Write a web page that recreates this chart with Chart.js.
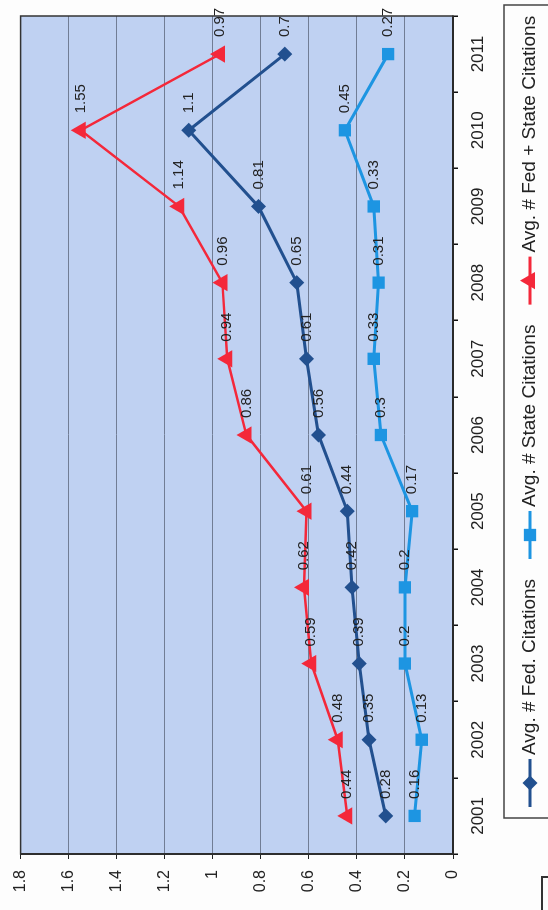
<!DOCTYPE html>
<html>
<head>
<meta charset="utf-8">
<title>Average citations per year</title>
<script src="https://cdn.jsdelivr.net/npm/chart.js"></script>
<style>
  html, body { margin: 0; padding: 0; }
  body { width: 548px; height: 910px; overflow: hidden; background: #fdfdfd; position: relative; }
  /* the scanned chart is turned a quarter turn counter-clockwise */
  #rotated { position: absolute; left: 0; top: 0; width: 910px; height: 548px; transform-origin: 0 0; transform: translateY(910px) rotate(-90deg); }
  #corner { position: absolute; left: 541px; top: 876px; width: 40px; height: 60px; border: 2px solid #333; }
</style>
</head>
<body>
<div id="rotated"><canvas id="citationsChart" width="910" height="548"></canvas></div>
<div id="corner"></div>
<script>
const years = ['2001', '2002', '2003', '2004', '2005', '2006', '2007', '2008', '2009', '2010', '2011'];
const fedCitations = [0.28, 0.35, 0.39, 0.42, 0.44, 0.56, 0.61, 0.65, 0.81, 1.1, 0.7];
const stateCitations = [0.16, 0.13, 0.2, 0.2, 0.17, 0.3, 0.33, 0.31, 0.33, 0.45, 0.27];
const fedStateCitations = [0.44, 0.48, 0.59, 0.62, 0.61, 0.86, 0.94, 0.96, 1.14, 1.55, 0.97];
const valueTickLabels = ['0', '0.2', '0.4', '0.6', '0.8', '1', '1.2', '1.4', '1.6', '1.8'];

const FONT = '"Liberation Sans", Arial, sans-serif';
Chart.defaults.font.family = FONT;
Chart.defaults.color = '#222';

function drawMarker(ctx, style, x, y, r, color) {
  ctx.save();
  ctx.fillStyle = color;
  ctx.beginPath();
  if (style === 'rectRot') {
    ctx.moveTo(x, y - r);
    ctx.lineTo(x + r, y);
    ctx.lineTo(x, y + r);
    ctx.lineTo(x - r, y);
  } else if (style === 'rect') {
    const s = r * Math.SQRT1_2;
    ctx.rect(x - s, y - s, 2 * s, 2 * s);
  } else {
    ctx.moveTo(x, y - r);
    ctx.lineTo(x + r * 0.866, y + r / 2);
    ctx.lineTo(x - r * 0.866, y + r / 2);
  }
  ctx.closePath();
  ctx.fill();
  ctx.restore();
}

// light blue plot area with a dark frame, like the Excel original
const plotFrame = {
  id: 'plotFrame',
  beforeDraw(chart) {
    const {ctx, chartArea: a} = chart;
    ctx.save();
    ctx.fillStyle = '#bfd1f2';
    ctx.fillRect(a.left, a.top, a.right - a.left, a.bottom - a.top);
    ctx.restore();
  },
  beforeDatasetsDraw(chart) {
    const {ctx, chartArea: a} = chart;
    ctx.save();
    ctx.strokeStyle = '#333';
    ctx.lineWidth = 1.5;
    ctx.strokeRect(a.left, a.top, a.right - a.left, a.bottom - a.top);
    ctx.restore();
  }
};

// value labels to the right of each point
const valueLabels = {
  id: 'valueLabels',
  afterDatasetsDraw(chart) {
    const ctx = chart.ctx;
    ctx.save();
    ctx.font = '15px ' + FONT;
    ctx.fillStyle = '#222';
    ctx.textAlign = 'left';
    ctx.textBaseline = 'middle';
    chart.data.datasets.forEach((ds, i) => {
      chart.getDatasetMeta(i).data.forEach((pt, j) => {
        ctx.fillText(String(ds.data[j]), pt.x + 17, pt.y);
      });
    });
    ctx.restore();
  }
};

// boxed legend with line + marker samples
const boxedLegend = {
  id: 'boxedLegend',
  afterDraw(chart) {
    const ctx = chart.ctx;
    const top = 504, mid = 530;
    ctx.save();
    ctx.strokeStyle = '#444';
    ctx.lineWidth = 1.5;
    ctx.strokeRect(92, top, 813, 80);
    ctx.font = '19px ' + FONT;
    ctx.textBaseline = 'middle';
    let x = 103;
    chart.data.datasets.forEach(ds => {
      ctx.strokeStyle = ds.borderColor;
      ctx.lineWidth = 3;
      ctx.beginPath();
      ctx.moveTo(x, mid);
      ctx.lineTo(x + 48, mid);
      ctx.stroke();
      drawMarker(ctx, ds.pointStyle, x + 24, mid, ds.pointRadius, ds.borderColor);
      ctx.fillStyle = '#222';
      ctx.fillText(ds.label, x + 52, mid);
      x += 52 + ctx.measureText(ds.label).width + 20;
    });
    ctx.restore();
  }
};

const ctx = document.getElementById('citationsChart').getContext('2d');
const citationsChart = new Chart(ctx, {
  type: 'line',
  data: {
    labels: years,
    datasets: [{
      label: 'Avg. # Fed. Citations',
      data: fedCitations,
      borderColor: '#22508f',
      backgroundColor: '#22508f',
      borderWidth: 3,
      pointStyle: 'rectRot',
      pointRadius: 7.5,
      pointBorderWidth: 0
    }, {
      label: 'Avg. # State Citations',
      data: stateCitations,
      borderColor: '#1d95e2',
      backgroundColor: '#1d95e2',
      borderWidth: 3,
      pointStyle: 'rect',
      pointRadius: 8.7,
      pointBorderWidth: 0
    }, {
      label: 'Avg. # Fed + State Citations',
      data: fedStateCitations,
      borderColor: '#f4283a',
      backgroundColor: '#f4283a',
      borderWidth: 2.5,
      pointStyle: 'triangle',
      pointRadius: 10,
      pointBorderWidth: 0
    }]
  },
  options: {
    responsive: false,
    animation: false,
    layout: { padding: { top: 17, right: 16, left: 0, bottom: 0 } },
    plugins: {
      legend: { display: false },
      tooltip: { enabled: false }
    },
    scales: {
      x: {
        offset: true,
        grid: { offset: true, drawOnChartArea: false, tickLength: 5, color: '#111', lineWidth: 1.5 },
        border: { color: '#111', width: 2 },
        ticks: { font: { size: 17 }, padding: 10, maxRotation: 0, autoSkip: false },
        afterFit: scale => { scale.height = 95; }
      },
      y: {
        min: 0,
        max: 1.8,
        grid: { color: '#717d95', lineWidth: 1, tickLength: 5, tickColor: '#222' },
        border: { color: '#222', width: 2 },
        ticks: {
          stepSize: 0.2,
          font: { size: 16 },
          padding: 11,
          callback: (value, index) => valueTickLabels[index]
        },
        afterFit: scale => { scale.width = 56; }
      }
    }
  },
  plugins: [plotFrame, valueLabels, boxedLegend]
});
</script>
</body>
</html>
